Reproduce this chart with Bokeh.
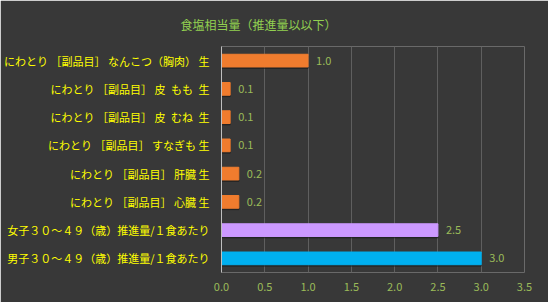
from bokeh.plotting import figure
from bokeh.models import ColumnDataSource, Title, LabelSet, SingleIntervalTicker, FactorRange, NumeralTickFormatter
from bokeh.core.properties import value
from bokeh.transform import dodge
from bokeh.embed import file_html
from bokeh.resources import INLINE

categories = [
    "にわとり ［副品目］ なんこつ（胸肉） 生",
    "にわとり ［副品目］ 皮\u2002もも\u2002生",
    "にわとり ［副品目］ 皮\u2002むね\u2002生",
    "にわとり ［副品目］ すなぎも 生",
    "にわとり ［副品目］ 肝臓 生",
    "にわとり ［副品目］ 心臓 生",
    "女子３０～４９（歳）推進量/１食あたり",
    "男子３０～４９（歳）推進量/１食あたり",
]
values = [1.0, 0.1, 0.1, 0.1, 0.2, 0.2, 2.5, 3.0]
colors = ["#f07c2e", "#f07c2e", "#f07c2e", "#f07c2e", "#f07c2e", "#f07c2e", "#cc99ff", "#00b0f0"]
labels = ["%.1f" % v for v in values]

FONT = "Noto Sans CJK JP"
BG = "#383838"

src = ColumnDataSource(dict(cat=categories, val=values, color=colors, label=labels))

p = figure(
    width=548, height=302,
    y_range=FactorRange(*list(reversed(categories))),
    x_range=(0, 3.5),
    output_backend="svg", toolbar_location=None,
    min_border_left=221, min_border_right=24, min_border_top=45, min_border_bottom=30,
)
p.background_fill_color = BG
p.border_fill_color = BG
p.outline_line_color = None

p.add_layout(Title(text="食塩相当量（推進量以以下）", align="left", offset=-41, standoff=27,
                   text_color="#92d050", text_font_size="12px", text_font=FONT,
                   text_font_style="normal"), "above")

# soft drop shadow
p.hbar(y=dodge("cat", -0.05, range=p.y_range), right="val", left=0, height=0.45,
       source=src, color="#1c1c1c", alpha=0.55)
p.hbar(y="cat", right="val", left=0, height=0.45, source=src, color="color")

p.add_layout(LabelSet(x="val", y="cat", text="label", source=src, x_offset=8,
                      text_baseline="middle", text_color="#9bbb59",
                      text_font_size=value("11px"), text_font=value(FONT)))

p.xaxis.ticker = SingleIntervalTicker(interval=0.5)
p.xaxis.formatter = NumeralTickFormatter(format="0.0")
p.xaxis.axis_line_color = None
p.xaxis.major_tick_line_color = None
p.xaxis.minor_tick_line_color = None
p.xaxis.major_label_text_color = "#9bbb59"
p.xaxis.major_label_text_font = FONT
p.xaxis.major_label_text_font_size = "11px"
p.xaxis.major_label_standoff = 4

p.yaxis.axis_line_color = "#bfbfbf"
p.yaxis.major_tick_line_color = None
p.yaxis.minor_tick_line_color = None
p.yaxis.major_label_text_color = "#ffff00"
p.yaxis.major_label_text_font = FONT
p.yaxis.major_label_text_font_size = "11px"
p.yaxis.major_label_standoff = 6

p.xgrid.grid_line_color = "#5f5f5f"
p.xgrid.ticker = SingleIntervalTicker(interval=0.5)
p.ygrid.grid_line_color = None

open("out.html", "w").write(file_html(p, INLINE))
